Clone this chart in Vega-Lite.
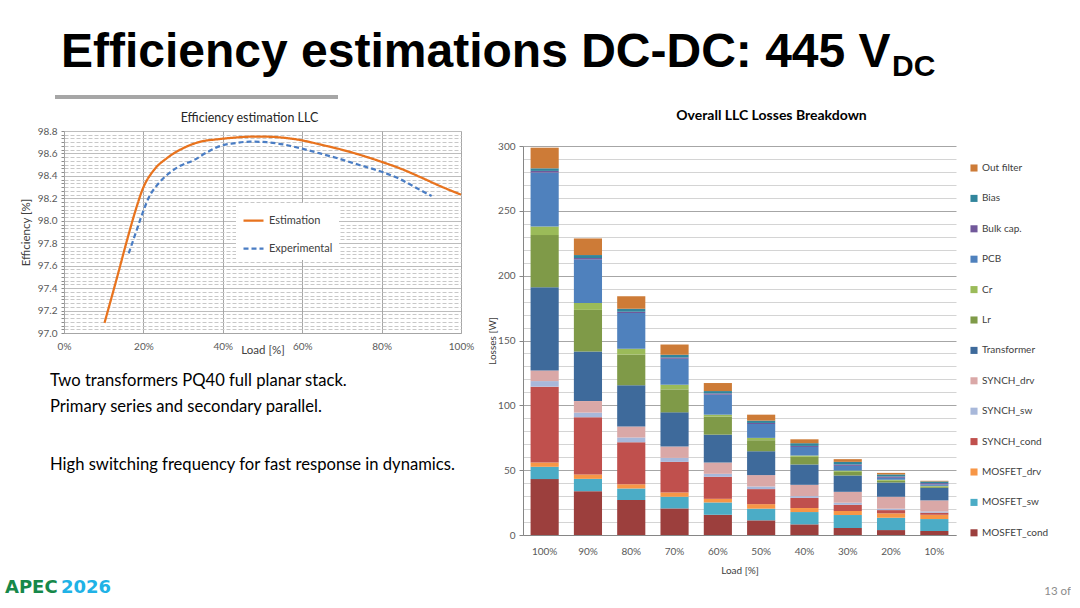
{
  "$schema": "https://vega.github.io/schema/vega-lite/v6.json",
  "background": "white",
  "padding": {"left": 0, "top": 29, "right": 0, "bottom": 0},
  "config": {
    "font": "Lato",
    "view": {"stroke": null},
    "title": {"fontWeight": "normal"}
  },
  "datasets": {
    "efficiency": [
      {"series": "Estimation", "load": 10.2, "efficiency": 97.09},
      {"series": "Estimation", "load": 13.4, "efficiency": 97.5},
      {"series": "Estimation", "load": 15.9, "efficiency": 97.83},
      {"series": "Estimation", "load": 18.0, "efficiency": 98.09},
      {"series": "Estimation", "load": 19.9, "efficiency": 98.29},
      {"series": "Estimation", "load": 22.6, "efficiency": 98.45},
      {"series": "Estimation", "load": 26.0, "efficiency": 98.56},
      {"series": "Estimation", "load": 30.2, "efficiency": 98.65},
      {"series": "Estimation", "load": 34.4, "efficiency": 98.705},
      {"series": "Estimation", "load": 38.6, "efficiency": 98.726},
      {"series": "Estimation", "load": 42.7, "efficiency": 98.74},
      {"series": "Estimation", "load": 46.9, "efficiency": 98.749},
      {"series": "Estimation", "load": 51.1, "efficiency": 98.749},
      {"series": "Estimation", "load": 55.3, "efficiency": 98.74},
      {"series": "Estimation", "load": 59.9, "efficiency": 98.717},
      {"series": "Estimation", "load": 64.5, "efficiency": 98.68},
      {"series": "Estimation", "load": 69.6, "efficiency": 98.637},
      {"series": "Estimation", "load": 74.6, "efficiency": 98.587},
      {"series": "Estimation", "load": 80.0, "efficiency": 98.525},
      {"series": "Estimation", "load": 84.7, "efficiency": 98.466},
      {"series": "Estimation", "load": 89.7, "efficiency": 98.39},
      {"series": "Estimation", "load": 94.7, "efficiency": 98.31},
      {"series": "Estimation", "load": 100.0, "efficiency": 98.233},
      {"series": "Experimental", "load": 16.3, "efficiency": 97.71},
      {"series": "Experimental", "load": 18.0, "efficiency": 97.885},
      {"series": "Experimental", "load": 19.7, "efficiency": 98.06},
      {"series": "Experimental", "load": 21.4, "efficiency": 98.21},
      {"series": "Experimental", "load": 23.5, "efficiency": 98.32},
      {"series": "Experimental", "load": 26.0, "efficiency": 98.41},
      {"series": "Experimental", "load": 29.3, "efficiency": 98.49},
      {"series": "Experimental", "load": 32.7, "efficiency": 98.54},
      {"series": "Experimental", "load": 36.0, "efficiency": 98.61},
      {"series": "Experimental", "load": 39.4, "efficiency": 98.667},
      {"series": "Experimental", "load": 42.7, "efficiency": 98.69},
      {"series": "Experimental", "load": 46.9, "efficiency": 98.705},
      {"series": "Experimental", "load": 51.1, "efficiency": 98.7},
      {"series": "Experimental", "load": 55.3, "efficiency": 98.68},
      {"series": "Experimental", "load": 59.9, "efficiency": 98.643},
      {"series": "Experimental", "load": 64.5, "efficiency": 98.6},
      {"series": "Experimental", "load": 69.6, "efficiency": 98.55},
      {"series": "Experimental", "load": 74.6, "efficiency": 98.495},
      {"series": "Experimental", "load": 80.0, "efficiency": 98.437},
      {"series": "Experimental", "load": 84.7, "efficiency": 98.37},
      {"series": "Experimental", "load": 88.9, "efficiency": 98.29},
      {"series": "Experimental", "load": 92.6, "efficiency": 98.22}
    ],
    "losses": [
      {"load": "100%", "component": "MOSFET_cond", "loss": 43.1},
      {"load": "100%", "component": "MOSFET_sw", "loss": 9.5},
      {"load": "100%", "component": "MOSFET_drv", "loss": 3.3},
      {"load": "100%", "component": "SYNCH_cond", "loss": 58.5},
      {"load": "100%", "component": "SYNCH_sw", "loss": 4.3},
      {"load": "100%", "component": "SYNCH_drv", "loss": 8.2},
      {"load": "100%", "component": "Transformer", "loss": 64.1},
      {"load": "100%", "component": "Lr", "loss": 40.3},
      {"load": "100%", "component": "Cr", "loss": 6.6},
      {"load": "100%", "component": "PCB", "loss": 41.6},
      {"load": "100%", "component": "Bulk cap.", "loss": 1.3},
      {"load": "100%", "component": "Bias", "loss": 2.0},
      {"load": "100%", "component": "Out filter", "loss": 15.9},
      {"load": "90%", "component": "MOSFET_cond", "loss": 33.8},
      {"load": "90%", "component": "MOSFET_sw", "loss": 9.5},
      {"load": "90%", "component": "MOSFET_drv", "loss": 3.4},
      {"load": "90%", "component": "SYNCH_cond", "loss": 44.1},
      {"load": "90%", "component": "SYNCH_sw", "loss": 3.6},
      {"load": "90%", "component": "SYNCH_drv", "loss": 8.9},
      {"load": "90%", "component": "Transformer", "loss": 38.2},
      {"load": "90%", "component": "Lr", "loss": 32.1},
      {"load": "90%", "component": "Cr", "loss": 5.4},
      {"load": "90%", "component": "PCB", "loss": 33.6},
      {"load": "90%", "component": "Bulk cap.", "loss": 1.0},
      {"load": "90%", "component": "Bias", "loss": 2.3},
      {"load": "90%", "component": "Out filter", "loss": 12.8},
      {"load": "80%", "component": "MOSFET_cond", "loss": 26.9},
      {"load": "80%", "component": "MOSFET_sw", "loss": 9.0},
      {"load": "80%", "component": "MOSFET_drv", "loss": 3.3},
      {"load": "80%", "component": "SYNCH_cond", "loss": 32.3},
      {"load": "80%", "component": "SYNCH_sw", "loss": 3.6},
      {"load": "80%", "component": "SYNCH_drv", "loss": 8.5},
      {"load": "80%", "component": "Transformer", "loss": 31.8},
      {"load": "80%", "component": "Lr", "loss": 23.8},
      {"load": "80%", "component": "Cr", "loss": 4.4},
      {"load": "80%", "component": "PCB", "loss": 27.7},
      {"load": "80%", "component": "Bulk cap.", "loss": 0.8},
      {"load": "80%", "component": "Bias", "loss": 2.3},
      {"load": "80%", "component": "Out filter", "loss": 9.7},
      {"load": "70%", "component": "MOSFET_cond", "loss": 20.5},
      {"load": "70%", "component": "MOSFET_sw", "loss": 9.0},
      {"load": "70%", "component": "MOSFET_drv", "loss": 3.3},
      {"load": "70%", "component": "SYNCH_cond", "loss": 23.6},
      {"load": "70%", "component": "SYNCH_sw", "loss": 3.1},
      {"load": "70%", "component": "SYNCH_drv", "loss": 8.7},
      {"load": "70%", "component": "Transformer", "loss": 26.4},
      {"load": "70%", "component": "Lr", "loss": 17.7},
      {"load": "70%", "component": "Cr", "loss": 3.6},
      {"load": "70%", "component": "PCB", "loss": 20.0},
      {"load": "70%", "component": "Bulk cap.", "loss": 1.0},
      {"load": "70%", "component": "Bias", "loss": 2.1},
      {"load": "70%", "component": "Out filter", "loss": 7.9},
      {"load": "60%", "component": "MOSFET_cond", "loss": 15.6},
      {"load": "60%", "component": "MOSFET_sw", "loss": 9.5},
      {"load": "60%", "component": "MOSFET_drv", "loss": 2.8},
      {"load": "60%", "component": "SYNCH_cond", "loss": 17.0},
      {"load": "60%", "component": "SYNCH_sw", "loss": 2.3},
      {"load": "60%", "component": "SYNCH_drv", "loss": 8.7},
      {"load": "60%", "component": "Transformer", "loss": 21.5},
      {"load": "60%", "component": "Lr", "loss": 13.9},
      {"load": "60%", "component": "Cr", "loss": 1.5},
      {"load": "60%", "component": "PCB", "loss": 15.4},
      {"load": "60%", "component": "Bulk cap.", "loss": 1.0},
      {"load": "60%", "component": "Bias", "loss": 1.8},
      {"load": "60%", "component": "Out filter", "loss": 6.2},
      {"load": "50%", "component": "MOSFET_cond", "loss": 11.3},
      {"load": "50%", "component": "MOSFET_sw", "loss": 9.0},
      {"load": "50%", "component": "MOSFET_drv", "loss": 3.5},
      {"load": "50%", "component": "SYNCH_cond", "loss": 11.6},
      {"load": "50%", "component": "SYNCH_sw", "loss": 2.0},
      {"load": "50%", "component": "SYNCH_drv", "loss": 8.8},
      {"load": "50%", "component": "Transformer", "loss": 18.4},
      {"load": "50%", "component": "Lr", "loss": 8.5},
      {"load": "50%", "component": "Cr", "loss": 1.8},
      {"load": "50%", "component": "PCB", "loss": 10.7},
      {"load": "50%", "component": "Bulk cap.", "loss": 0.8},
      {"load": "50%", "component": "Bias", "loss": 1.8},
      {"load": "50%", "component": "Out filter", "loss": 4.6},
      {"load": "40%", "component": "MOSFET_cond", "loss": 8.2},
      {"load": "40%", "component": "MOSFET_sw", "loss": 9.5},
      {"load": "40%", "component": "MOSFET_drv", "loss": 3.1},
      {"load": "40%", "component": "SYNCH_cond", "loss": 7.9},
      {"load": "40%", "component": "SYNCH_sw", "loss": 1.3},
      {"load": "40%", "component": "SYNCH_drv", "loss": 8.7},
      {"load": "40%", "component": "Transformer", "loss": 15.7},
      {"load": "40%", "component": "Lr", "loss": 5.9},
      {"load": "40%", "component": "Cr", "loss": 1.0},
      {"load": "40%", "component": "PCB", "loss": 6.6},
      {"load": "40%", "component": "Bulk cap.", "loss": 0.8},
      {"load": "40%", "component": "Bias", "loss": 2.1},
      {"load": "40%", "component": "Out filter", "loss": 3.0},
      {"load": "30%", "component": "MOSFET_cond", "loss": 5.4},
      {"load": "30%", "component": "MOSFET_sw", "loss": 10.0},
      {"load": "30%", "component": "MOSFET_drv", "loss": 3.1},
      {"load": "30%", "component": "SYNCH_cond", "loss": 4.8},
      {"load": "30%", "component": "SYNCH_sw", "loss": 1.6},
      {"load": "30%", "component": "SYNCH_drv", "loss": 8.4},
      {"load": "30%", "component": "Transformer", "loss": 12.6},
      {"load": "30%", "component": "Lr", "loss": 2.8},
      {"load": "30%", "component": "Cr", "loss": 1.0},
      {"load": "30%", "component": "PCB", "loss": 3.6},
      {"load": "30%", "component": "Bulk cap.", "loss": 1.1},
      {"load": "30%", "component": "Bias", "loss": 2.0},
      {"load": "30%", "component": "Out filter", "loss": 2.1},
      {"load": "20%", "component": "MOSFET_cond", "loss": 3.8},
      {"load": "20%", "component": "MOSFET_sw", "loss": 9.5},
      {"load": "20%", "component": "MOSFET_drv", "loss": 3.4},
      {"load": "20%", "component": "SYNCH_cond", "loss": 2.5},
      {"load": "20%", "component": "SYNCH_sw", "loss": 1.1},
      {"load": "20%", "component": "SYNCH_drv", "loss": 9.2},
      {"load": "20%", "component": "Transformer", "loss": 11.0},
      {"load": "20%", "component": "Lr", "loss": 1.3},
      {"load": "20%", "component": "Cr", "loss": 0.8},
      {"load": "20%", "component": "PCB", "loss": 1.5},
      {"load": "20%", "component": "Bulk cap.", "loss": 1.0},
      {"load": "20%", "component": "Bias", "loss": 1.6},
      {"load": "20%", "component": "Out filter", "loss": 1.2},
      {"load": "10%", "component": "MOSFET_cond", "loss": 3.1},
      {"load": "10%", "component": "MOSFET_sw", "loss": 9.2},
      {"load": "10%", "component": "MOSFET_drv", "loss": 3.3},
      {"load": "10%", "component": "SYNCH_cond", "loss": 1.6},
      {"load": "10%", "component": "SYNCH_sw", "loss": 1.0},
      {"load": "10%", "component": "SYNCH_drv", "loss": 8.5},
      {"load": "10%", "component": "Transformer", "loss": 9.7},
      {"load": "10%", "component": "Lr", "loss": 1.0},
      {"load": "10%", "component": "Cr", "loss": 0.5},
      {"load": "10%", "component": "PCB", "loss": 1.1},
      {"load": "10%", "component": "Bulk cap.", "loss": 1.0},
      {"load": "10%", "component": "Bias", "loss": 1.3},
      {"load": "10%", "component": "Out filter", "loss": 0.5}
    ]
  },
  "spacing": 4,
  "resolve": {"scale": {"color": "independent", "strokeDash": "independent"}, "legend": {"color": "independent", "strokeDash": "independent"}},
  "vconcat": [
    {
      "spacing": 0,
      "hconcat": [
        {"width": 55, "height": 1, "data": {"values": []}, "mark": "point"},
        {
          "width": 283, "height": 4,
          "view": {"fill": "#A6A6A6", "stroke": null},
          "data": {"values": []},
          "mark": "point",
          "title": {"text": "Efficiency estimations DC-DC: 445 V", "anchor": "start", "dx": 6, "font": "Liberation Sans", "fontSize": 48, "fontWeight": "bold", "color": "#000000", "offset": 18}
        },
        {
          "width": 44, "height": 1,
          "data": {"values": []},
          "mark": "point",
          "title": {"text": "DC", "anchor": "start", "dx": 1, "font": "Liberation Sans", "fontSize": 30, "fontWeight": "bold", "color": "#000000", "offset": 13}
        }
      ]
    },
    {
      "spacing": 13,
      "resolve": {"scale": {"color": "independent", "strokeDash": "independent"}, "legend": {"color": "independent", "strokeDash": "independent"}},
      "hconcat": [
        {"width": 7, "height": 1, "data": {"values": []}, "mark": "point"},
        {
          "spacing": 7,
          "resolve": {"scale": {"color": "independent", "strokeDash": "independent"}},
          "vconcat": [
            {"width": 1, "height": 1, "data": {"values": []}, "mark": "point"},
            {
              "width": 397, "height": 202,
              "title": {"text": "Efficiency estimation LLC", "fontSize": 12.5, "color": "#262626", "offset": 2, "dx": -13},
              "data": {"name": "efficiency"},
              "mark": {"type": "line", "strokeWidth": 2.25, "interpolate": "monotone"},
              "encoding": {
                "x": {
                  "field": "load", "type": "quantitative",
                  "scale": {"domain": [0, 100], "nice": false},
                  "axis": {
                    "values": [0, 20, 40, 60, 80, 100],
                    "labelExpr": "datum.value + '%'",
                    "labelFlush": false, "labelFontSize": 10, "labelColor": "#595959", "labelPadding": 8,
                    "ticks": false, "domainColor": "#A6A6A6", "gridColor": "#A6A6A6",
                    "title": "Load [%]", "titleFontSize": 11.5, "titleFontWeight": "normal", "titleColor": "#404040", "titlePadding": -7
                  }
                },
                "y": {
                  "field": "efficiency", "type": "quantitative",
                  "scale": {"domain": [97, 98.8], "nice": false, "zero": false},
                  "axis": {
                    "values": [97, 97.0333, 97.0667, 97.1, 97.1333, 97.1667, 97.2, 97.2333, 97.2667, 97.3, 97.3333, 97.3667, 97.4, 97.4333, 97.4667, 97.5, 97.5333, 97.5667, 97.6, 97.6333, 97.6667, 97.7, 97.7333, 97.7667, 97.8, 97.8333, 97.8667, 97.9, 97.9333, 97.9667, 98, 98.0333, 98.0667, 98.1, 98.1333, 98.1667, 98.2, 98.2333, 98.2667, 98.3, 98.3333, 98.3667, 98.4, 98.4333, 98.4667, 98.5, 98.5333, 98.5667, 98.6, 98.6333, 98.6667, 98.7, 98.7333, 98.7667, 98.8],
                    "labelExpr": "abs(datum.value * 5 - round(datum.value * 5)) < 0.01 ? format(datum.value, '.1f') : ''",
                    "labelOverlap": false, "labelFontSize": 10, "labelColor": "#595959", "labelPadding": 4,
                    "tickSize": 3, "tickColor": "#8C8C8C", "domainColor": "#A6A6A6",
                    "gridColor": {"condition": {"test": "abs(datum.value * 5 - round(datum.value * 5)) < 0.01", "value": "#A6A6A6"}, "value": "#C8C8C8"},
                    "gridDash": {"condition": {"test": "abs(datum.value * 5 - round(datum.value * 5)) < 0.01", "value": [1, 0]}, "value": [4, 2]},
                    "title": "Efficiency [%]", "titleFontSize": 11.5, "titleFontWeight": "normal", "titleColor": "#404040", "titlePadding": 6
                  }
                },
                "color": {
                  "field": "series", "type": "nominal",
                  "scale": {"domain": ["Estimation", "Experimental"], "range": ["#E8731E", "#4A7DC4"]},
                  "legend": {"title": null, "orient": "none", "legendX": 172, "legendY": 72, "fillColor": "white", "padding": 6, "symbolType": "stroke", "symbolSize": 400, "symbolStrokeWidth": 2.25, "labelFontSize": 11, "labelColor": "#404040", "rowPadding": 11, "labelOffset": 4}
                },
                "strokeDash": {
                  "field": "series", "type": "nominal",
                  "scale": {"domain": ["Estimation", "Experimental"], "range": [[1, 0], [5, 3]]},
                  "legend": {"title": null, "orient": "none", "legendX": 172, "legendY": 72, "fillColor": "white", "padding": 6, "symbolType": "stroke", "symbolSize": 400, "symbolStrokeWidth": 2.25, "labelFontSize": 11, "labelColor": "#404040", "rowPadding": 11, "labelOffset": 4}
                }
              }
            },
            {
              "width": 350, "height": 1,
              "data": {"values": []},
              "mark": "point",
              "title": {
                "text": ["Two transformers PQ40 full planar stack.", "Primary series and secondary parallel."],
                "orient": "bottom", "anchor": "start", "dx": -14, "offset": 9,
                "fontSize": 16.6, "color": "#000000", "lineHeight": 26
              }
            },
            {
              "width": 350, "height": 1,
              "data": {"values": []},
              "mark": "point",
              "title": {
                "text": "High switching frequency for fast response in dynamics.",
                "orient": "bottom", "anchor": "start", "dx": -14, "offset": 33,
                "fontSize": 16.6, "color": "#000000"
              }
            }
          ]
        },
        {
          "spacing": 5,
          "resolve": {"scale": {"color": "independent"}},
          "vconcat": [
            {"width": 1, "height": 1, "data": {"values": []}, "mark": "point"},
            {
              "width": 433, "height": 389,
              "title": {"text": "Overall LLC Losses Breakdown", "fontSize": 14, "fontWeight": "bold", "color": "#000000", "offset": 18, "dx": 32},
              "data": {"name": "losses"},
              "transform": [
                {"calculate": "indexof(['MOSFET_cond', 'MOSFET_sw', 'MOSFET_drv', 'SYNCH_cond', 'SYNCH_sw', 'SYNCH_drv', 'Transformer', 'Lr', 'Cr', 'PCB', 'Bulk cap.', 'Bias', 'Out filter'], datum.component)", "as": "stack_order"}
              ],
              "mark": {"type": "bar"},
              "encoding": {
                "x": {
                  "field": "load", "type": "ordinal",
                  "sort": ["100%", "90%", "80%", "70%", "60%", "50%", "40%", "30%", "20%", "10%"],
                  "scale": {"paddingInner": 0.35, "paddingOuter": 0.175},
                  "axis": {"labelAngle": 0, "labelFontSize": 10, "labelColor": "#595959", "labelPadding": 11, "ticks": false, "tickSize": 0, "domainColor": "#868686", "title": "Load [%]", "titleFontSize": 10, "titleFontWeight": "normal", "titleColor": "#404040", "titlePadding": 9}
                },
                "y": {
                  "field": "loss", "type": "quantitative", "stack": "zero",
                  "scale": {"domain": [0, 300], "nice": false},
                  "axis": {
                    "values": [0, 10, 20, 30, 40, 50, 60, 70, 80, 90, 100, 110, 120, 130, 140, 150, 160, 170, 180, 190, 200, 210, 220, 230, 240, 250, 260, 270, 280, 290, 300],
                    "labelExpr": "datum.value % 50 === 0 ? datum.label : ''",
                    "labelOverlap": false, "labelFontSize": 10, "labelColor": "#595959", "labelPadding": 4,
                    "tickColor": "#868686",
                    "tickSize": {"condition": {"test": "datum.value % 50 === 0", "value": 4}, "value": 0},
                    "domainColor": "#868686",
                    "gridColor": {"condition": {"test": "datum.value % 50 === 0", "value": "#A6A6A6"}, "value": "#D4D4D4"},
                    "title": "Losses [W]", "titleFontSize": 10, "titleFontWeight": "normal", "titleColor": "#404040", "titlePadding": 0
                  }
                },
                "order": {"field": "stack_order", "type": "quantitative", "sort": "ascending"},
                "color": {
                  "field": "component", "type": "nominal",
                  "scale": {
                    "domain": ["Out filter", "Bias", "Bulk cap.", "PCB", "Cr", "Lr", "Transformer", "SYNCH_drv", "SYNCH_sw", "SYNCH_cond", "MOSFET_drv", "MOSFET_sw", "MOSFET_cond"],
                    "range": ["#CD7B37", "#31859C", "#71589A", "#4F81BD", "#9BBB59", "#7F9A48", "#3E6A9B", "#DAA8A7", "#A8B8DA", "#C0504D", "#F79646", "#4BACC6", "#9C3F3D"]
                  },
                  "legend": {"title": null, "orient": "none", "legendX": 446, "legendY": 17, "symbolType": "square", "symbolSize": 50, "labelFontSize": 10, "labelColor": "#404040", "rowPadding": 20.4, "labelOffset": 3}
                }
              }
            }
          ]
        }
      ]
    },
    {
      "spacing": 0,
      "hconcat": [
        {
          "width": 1, "height": 1, "data": {"values": []}, "mark": "point",
          "title": {"text": "APEC", "anchor": "start", "dx": 5, "font": "DejaVu Sans", "fontSize": 18, "fontWeight": "bold", "color": "#16884A", "offset": 0}
        },
        {
          "width": 1, "height": 1, "data": {"values": []}, "mark": "point",
          "title": {"text": "2026", "anchor": "start", "dx": 3, "font": "DejaVu Sans", "fontSize": 18, "fontWeight": "bold", "color": "#20B2E6", "offset": 0}
        },
        {
          "width": 959, "height": 1, "data": {"values": []}, "mark": "point",
          "title": {"text": "13 of", "anchor": "end", "fontSize": 11.5, "color": "#8C8C8C", "offset": 0}
        }
      ]
    }
  ]
}
